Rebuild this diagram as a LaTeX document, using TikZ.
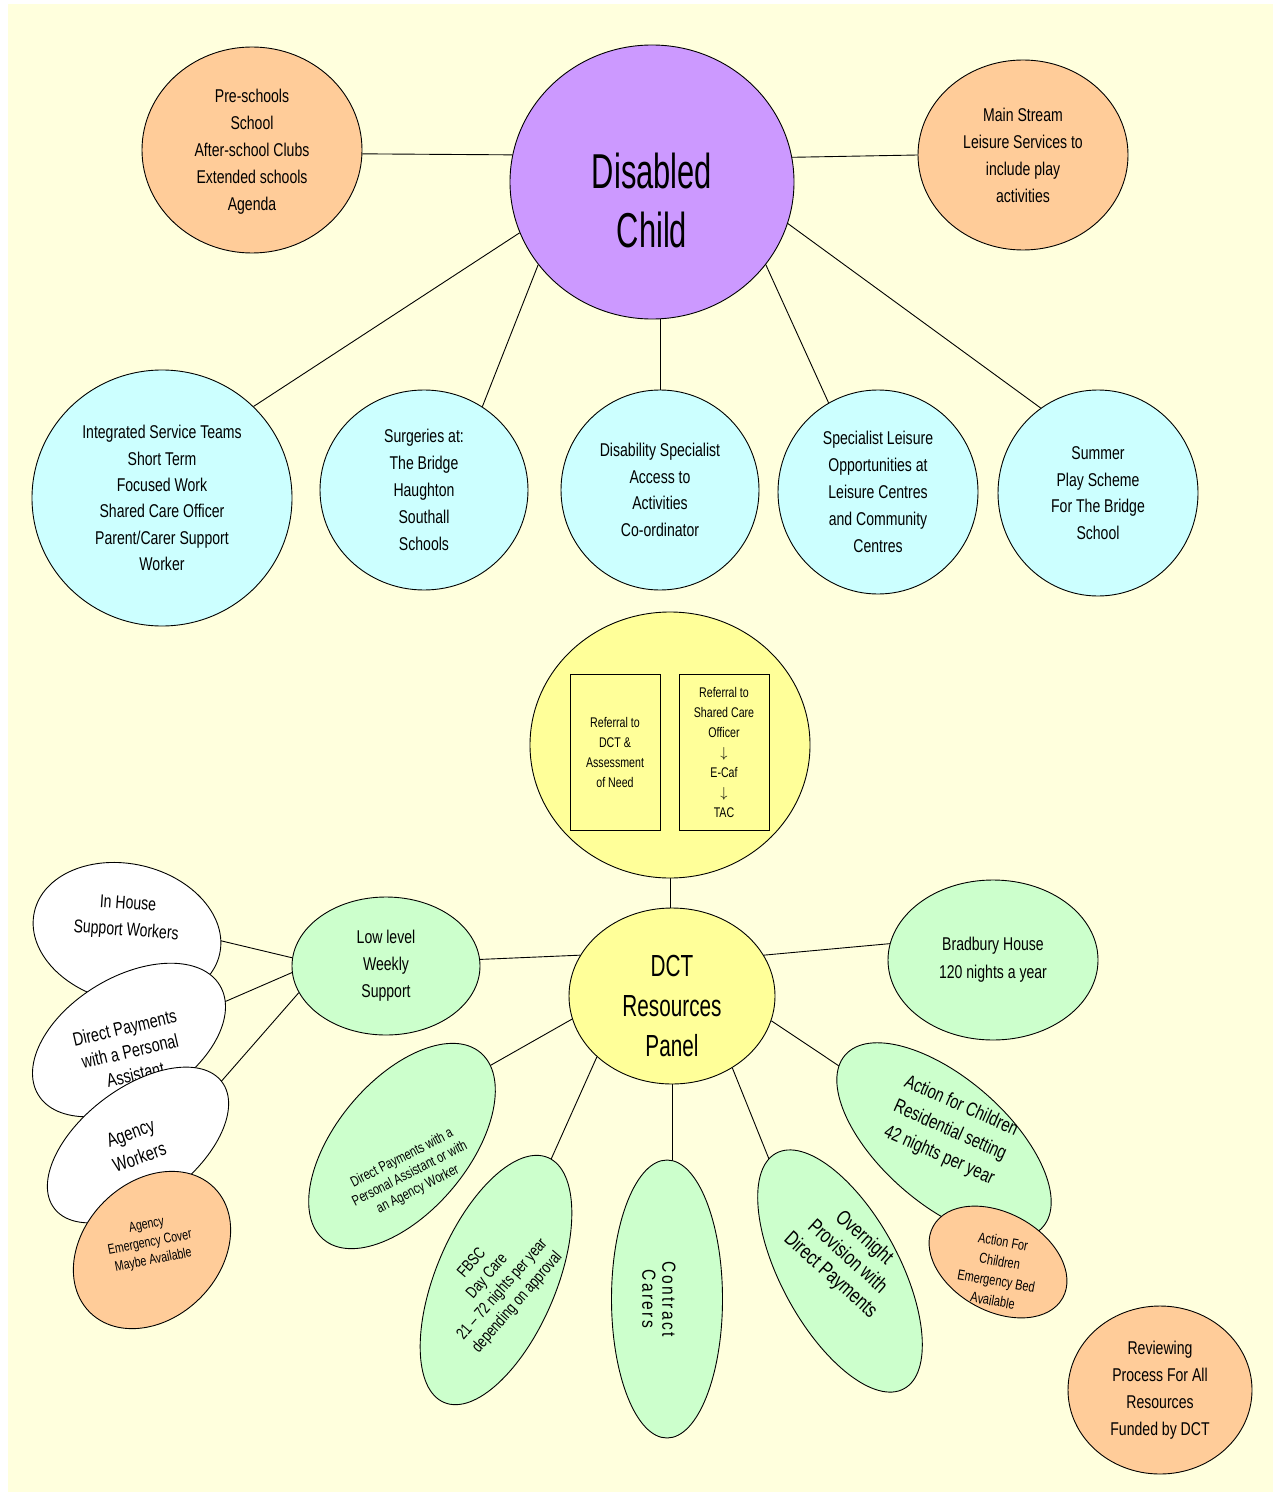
\documentclass[tikz,border=0pt]{standalone}
\usepackage{fontspec}
\setmainfont{Liberation Sans}[FakeStretch=0.76]
\newfontfamily\dcfont{Liberation Sans}[FakeStretch=0.63]
\newfontfamily\dctfont{Liberation Sans}[FakeStretch=0.68]
\newfontfamily\ccfont{Liberation Sans}[FakeStretch=0.82,LetterSpace=12]
\usetikzlibrary{shapes.geometric}
\definecolor{bgyel}{HTML}{FFFFDD}
\definecolor{orng}{HTML}{FFCC99}
\definecolor{purp}{HTML}{CC99FF}
\definecolor{cyn}{HTML}{CCFFFF}
\definecolor{yel}{HTML}{FFFF99}
\definecolor{grn}{HTML}{CCFFCC}
\pgfdeclarelayer{back}
\pgfdeclarelayer{lines}
\pgfsetlayers{back,lines,main}
\begin{document}
\begin{tikzpicture}[x=1pt,y=-1pt,
  every node/.style={inner sep=0pt, align=center},
  bub/.style={ellipse, draw=black, line width=0.9pt},
  body/.style={font=\fontsize{18.5}{27}\selectfont},
  small/.style={font=\fontsize{14}{18}\selectfont},
  boxtxt/.style={font=\fontsize{14}{20}\selectfont},
  conn/.style={draw=black, line width=0.9pt}]
\useasboundingbox (0,0) rectangle (1280,1495);
\begin{pgfonlayer}{back}
\fill[white] (0,0) rectangle (1280,1495);
\fill[bgyel] (8,4) rectangle (1273,1492);
\end{pgfonlayer}

% top row
\node[bub, fill=orng, minimum width=220pt, minimum height=206pt, body, text depth=0pt] (ps) at (252,150)
  {Pre-schools\\School\\After-school Clubs\\Extended schools\\Agenda};
\node[bub, fill=orng, minimum width=210pt, minimum height=190pt, body] (ms) at (1023,155)
  {Main Stream\\Leisure Services to\\include play\\activities};
\node[bub, fill=purp, minimum width=284pt, minimum height=274pt] (dc) at (652,182) {};
\node[font=\dcfont\fontsize{49}{59}\selectfont] (dc-t) at (652,200) {Disabled\\Child};

% second row
\node[bub, fill=cyn, minimum width=260pt, minimum height=256pt, font=\fontsize{18.5}{26.3}\selectfont] (ist) at (162,498)
  {Integrated Service Teams\\Short Term\\Focused Work\\Shared Care Officer\\Parent/Carer Support\\Worker};
\node[bub, fill=cyn, minimum width=208pt, minimum height=200pt, body] (sg) at (424,490)
  {Surgeries at:\\The Bridge\\Haughton\\Southall\\Schools};
\node[bub, fill=cyn, minimum width=198pt, minimum height=200pt, font=\fontsize{18.5}{26.7}\selectfont] (da) at (660,490)
  {Disability Specialist\\Access to\\Activities\\Co-ordinator};
\node[bub, fill=cyn, minimum width=200pt, minimum height=204pt, body] (sl) at (878,492)
  {Specialist Leisure\\Opportunities at\\Leisure Centres\\and Community\\Centres};
\node[bub, fill=cyn, minimum width=200pt, minimum height=206pt, font=\fontsize{18.5}{26.7}\selectfont] (su) at (1098,493)
  {Summer\\Play Scheme\\For The Bridge\\School};

% referral circle
\node[bub, fill=yel, minimum width=280pt, minimum height=266pt] (yc) at (670,745) {};
\node[draw=black, line width=0.9pt, minimum width=90pt, minimum height=156pt, boxtxt] (b1) at (615,752)
  {Referral to\\DCT \&\\Assessment\\of Need};
\node[draw=black, line width=0.9pt, minimum width=90pt, minimum height=156pt, boxtxt] (b2) at (724,752)
  {Referral to\\Shared Care\\Officer\\$\downarrow$\\E-Caf\\$\downarrow$\\TAC};

% DCT panel
\node[bub, fill=yel, minimum width=206pt, minimum height=176pt] (dct) at (672,996) {};
\node[font=\dctfont\fontsize{30.5}{40}\selectfont] (dct-t) at (672,1006) {DCT\\Resources\\Panel};

\node[bub, fill=grn, minimum width=188pt, minimum height=138pt, body] (ll) at (386,966)
  {Low level\\Weekly\\Support};
\node[bub, fill=grn, minimum width=210pt, minimum height=160pt, font=\fontsize{18.5}{28}\selectfont] (bh) at (993,960)
  {Bradbury House\\120 nights a year};

% white stack on the left
\node[bub, fill=white, minimum width=190pt, minimum height=138pt, rotate=-13] (ih) at (127,933) {};
\node[body, rotate=-4] (ih-t) at (127,918) {In House\\Support Workers};
\node[bub, fill=white, minimum width=212pt, minimum height=126pt, rotate=31] (dpw) at (129,1040) {};
\node[font=\fontsize{19}{24}\selectfont, rotate=13] (dpw-t) at (130,1051) {Direct Payments\\with a Personal\\Assistant};
\node[bub, fill=white, minimum width=210pt, minimum height=114pt, rotate=37] (aw) at (138,1145) {};
\node[font=\fontsize{19.5}{26}\selectfont, rotate=20] (aw-t) at (135,1145) {Agency\\Workers};
\node[bub, fill=orng, minimum width=176pt, minimum height=136pt, rotate=45] (ae) at (152,1250) {};
\node[small, rotate=11] (ae-t) at (150,1243) {Agency\\Emergency Cover\\Maybe Available};

% green fan
\node[bub, fill=grn, minimum width=244pt, minimum height=132pt, rotate=50] (pa) at (402,1146) {};
\node[font=\fontsize{14.5}{17.5}\selectfont, rotate=27] (pa-t) at (410,1174)
  {Direct Payments with a\\Personal Assistant or with\\an Agency Worker};
\node[bub, fill=grn, minimum width=266pt, minimum height=120pt, rotate=67] (fb) at (496,1280) {};
\node[font=\fontsize{16.5}{20}\selectfont, rotate=49] (fb-t) at (495,1283)
  {FBSC\\Day Care\\21 – 72 nights per year\\depending on approval};
\node[bub, fill=grn, minimum width=111pt, minimum height=278pt] (cc) at (667,1299) {};
\node[font=\ccfont\fontsize{19}{20}\selectfont, rotate=-90] (cc-t) at (659,1299) {Contract\\Carers};
\node[bub, fill=grn, minimum width=268pt, minimum height=118pt, rotate=-61.5] (on) at (840,1271) {};
\node[font=\fontsize{21}{25}\selectfont, rotate=-42] (on-t) at (847,1257)
  {Overnight\\Provision with\\Direct Payments};
\node[bub, fill=grn, minimum width=262pt, minimum height=126pt, rotate=-41] (afc) at (944,1141) {};
\node[font=\fontsize{19.5}{27}\selectfont, rotate=-24] (afc-t) at (950,1131)
  {Action for Children\\Residential setting\\42 nights per year};
\node[bub, fill=orng, minimum width=148pt, minimum height=98pt, rotate=-29] (afe) at (998,1262) {};
\node[font=\fontsize{14.5}{20}\selectfont, rotate=-10] (afe-t) at (998,1271)
  {Action For\\Children\\Emergency Bed\\Available};

\node[bub, fill=orng, minimum width=184pt, minimum height=168pt, body] (rv) at (1160,1390)
  {Reviewing\\Process For All\\Resources\\Funded by DCT};

% hidden ends of connectors inside the rotated ellipses
\coordinate (ihx) at (180,931);
\coordinate (dpx) at (185,1019);
\coordinate (awx) at (198,1108);
\coordinate (pax) at (470,1077);
\coordinate (fbx) at (540,1184);
\coordinate (onx) at (775,1174);
\coordinate (afcx) at (860,1080);

\begin{pgfonlayer}{lines}
\draw[conn] (ps.-2) -- (dc.169.2);
\draw[conn] (dc.10.7) -- (ms.180);
\draw[conn] (dc.201.9) -- (ist.45.3);
\draw[conn] (dc.216.5) -- (sg.55.4);
\draw[conn] (da.north) -- (da.north |- dc.center);
\draw[conn] (dc.324.9) -- (sl.119.7);
\draw[conn] (dc.343.8) -- (su.124.6);
\draw[conn] (yc.south) -- (yc.south |- dct.center);
\draw[conn] (dct.156.3) -- (ll.4.9);
\draw[conn] (dct.24.7) -- (bh.171.3);
\draw[conn] (ll.175.1) -- (ihx);
\draw[conn] (ll.184.3) -- (dpx);
\draw[conn] (ll.197) -- (awx);
\draw[conn] (dct.193) -- (pax);
\draw[conn] (dct.219) -- (fbx);
\draw[conn] (dct.south) -- (dct.south |- cc.center);
\draw[conn] (dct.310.2) -- (onx);
\draw[conn] (dct.346.1) -- (afcx);
\end{pgfonlayer}
\end{tikzpicture}
\end{document}
